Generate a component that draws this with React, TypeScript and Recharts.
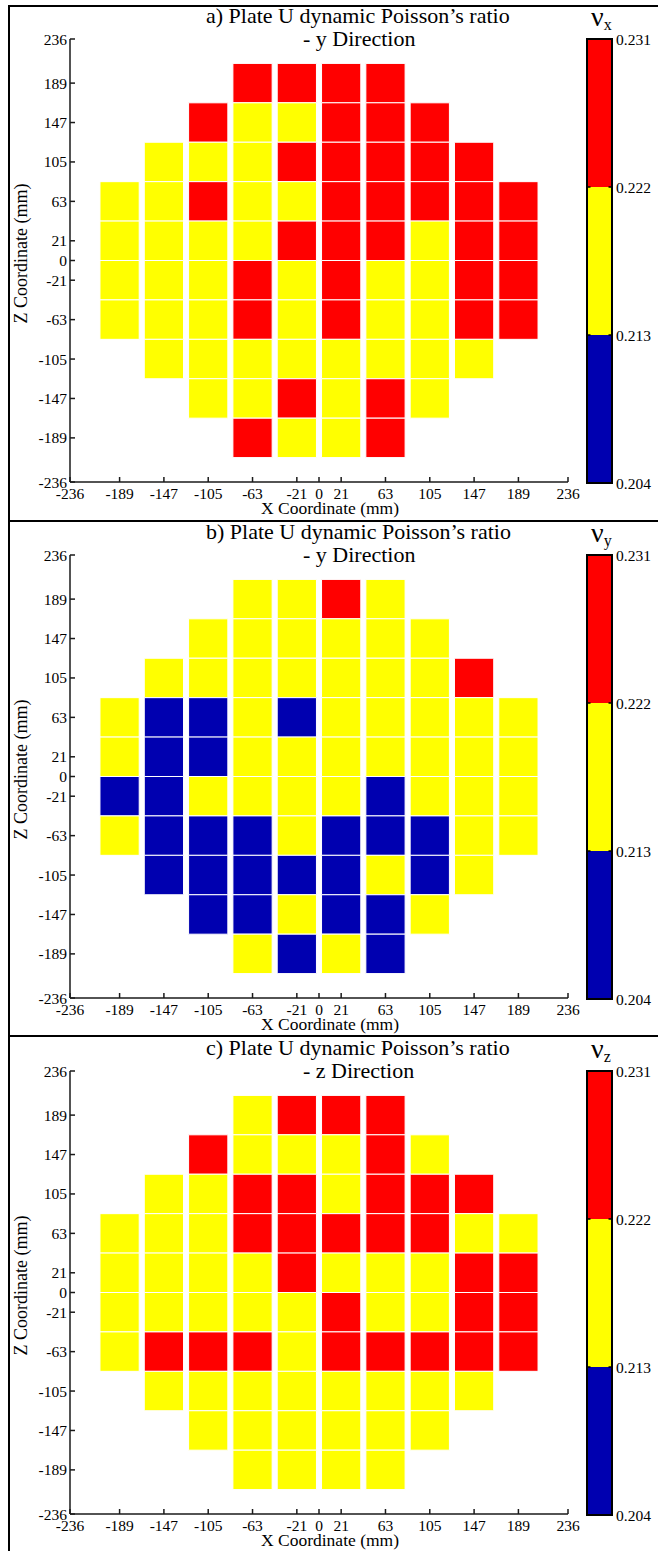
import React from "react"
import { ComposedChart, XAxis, YAxis, ReferenceArea, ReferenceLine } from "recharts"

// cell centres on the plate (mm)
const xCenters = [-189, -147, -105, -63, -21, 21, 63, 105, 147, 189]
const zCenters = [189, 147, 105, 63, 21, -21, -63, -105, -147, -189]
const coordTicks = [-236, -189, -147, -105, -63, -21, 0, 21, 63, 105, 147, 189, 236]

// colour bar
const levelTicks = [0.204, 0.213, 0.222, 0.231]
const levelColors = ["#0000b0", "#ffff00", "#ff0000"]

// rows follow zCenters (top to bottom), columns follow xCenters
const nuX = [
  [null, null, null, 0.227, 0.227, 0.227, 0.227, null, null, null],
  [null, null, 0.227, 0.218, 0.218, 0.227, 0.227, 0.227, null, null],
  [null, 0.218, 0.218, 0.218, 0.227, 0.227, 0.227, 0.227, 0.227, null],
  [0.218, 0.218, 0.227, 0.218, 0.218, 0.227, 0.227, 0.227, 0.227, 0.227],
  [0.218, 0.218, 0.218, 0.218, 0.227, 0.227, 0.227, 0.218, 0.227, 0.227],
  [0.218, 0.218, 0.218, 0.227, 0.218, 0.227, 0.218, 0.218, 0.227, 0.227],
  [0.218, 0.218, 0.218, 0.227, 0.218, 0.227, 0.218, 0.218, 0.227, 0.227],
  [null, 0.218, 0.218, 0.218, 0.218, 0.218, 0.218, 0.218, 0.218, null],
  [null, null, 0.218, 0.218, 0.227, 0.218, 0.227, 0.218, null, null],
  [null, null, null, 0.227, 0.218, 0.218, 0.227, null, null, null],
]

const nuY = [
  [null, null, null, 0.218, 0.218, 0.227, 0.218, null, null, null],
  [null, null, 0.218, 0.218, 0.218, 0.218, 0.218, 0.218, null, null],
  [null, 0.218, 0.218, 0.218, 0.218, 0.218, 0.218, 0.218, 0.227, null],
  [0.218, 0.209, 0.209, 0.218, 0.209, 0.218, 0.218, 0.218, 0.218, 0.218],
  [0.218, 0.209, 0.209, 0.218, 0.218, 0.218, 0.218, 0.218, 0.218, 0.218],
  [0.209, 0.209, 0.218, 0.218, 0.218, 0.218, 0.209, 0.218, 0.218, 0.218],
  [0.218, 0.209, 0.209, 0.209, 0.218, 0.209, 0.209, 0.209, 0.218, 0.218],
  [null, 0.209, 0.209, 0.209, 0.209, 0.209, 0.218, 0.209, 0.218, null],
  [null, null, 0.209, 0.209, 0.218, 0.209, 0.209, 0.218, null, null],
  [null, null, null, 0.218, 0.209, 0.218, 0.209, null, null, null],
]

const nuZ = [
  [null, null, null, 0.218, 0.227, 0.227, 0.227, null, null, null],
  [null, null, 0.227, 0.218, 0.218, 0.218, 0.227, 0.218, null, null],
  [null, 0.218, 0.218, 0.227, 0.227, 0.218, 0.227, 0.227, 0.227, null],
  [0.218, 0.218, 0.218, 0.227, 0.227, 0.227, 0.227, 0.227, 0.218, 0.218],
  [0.218, 0.218, 0.218, 0.218, 0.227, 0.218, 0.218, 0.218, 0.227, 0.227],
  [0.218, 0.218, 0.218, 0.218, 0.218, 0.227, 0.218, 0.218, 0.227, 0.227],
  [0.218, 0.227, 0.227, 0.227, 0.218, 0.227, 0.227, 0.227, 0.227, 0.227],
  [null, 0.218, 0.218, 0.218, 0.218, 0.218, 0.218, 0.218, 0.218, null],
  [null, null, 0.218, 0.218, 0.218, 0.218, 0.218, 0.218, null, null],
  [null, null, null, 0.218, 0.218, 0.218, 0.218, null, null, null],
]

const panels = [
  { title: "a) Plate U dynamic Poisson’s ratio", dir: "- y Direction", sub: "x", values: nuX },
  { title: "b) Plate U dynamic Poisson’s ratio", dir: "- y Direction", sub: "y", values: nuY },
  { title: "c) Plate U dynamic Poisson’s ratio", dir: "- z Direction", sub: "z", values: nuZ },
]

const SERIF = "'Liberation Serif', 'Times New Roman', serif"
const PANEL_H = 516
const HALF_W = 18.6
const HALF_H = 21

function colorFor(v: number) {
  if (v < levelTicks[1]) return levelColors[0]
  if (v < levelTicks[2]) return levelColors[1]
  return levelColors[2]
}

function toCells(values: (number | null)[][]) {
  const out: { x: number; z: number; v: number }[] = []
  values.forEach((row, r) =>
    row.forEach((v, c) => {
      if (v != null) out.push({ x: xCenters[c], z: zCenters[r], v })
    })
  )
  return out
}

const barData = levelTicks.map((t) => ({ x: 0.5, y: t }))
const tickStyle = { fill: "#000", fontSize: 15.5, fontFamily: SERIF }

function Panel({ index }: { index: number }) {
  const p = panels[index]
  const cells = toCells(p.values)
  const top = Math.round(index * PANEL_H)
  return (
    <div style={{ position: "absolute", left: 0, top, width: 658, height: 517 }}>
      <div style={{ position: "absolute", left: 206, top: 4, fontSize: 22, lineHeight: "24px", whiteSpace: "nowrap" }}>
        {p.title}
      </div>
      <div style={{ position: "absolute", left: 303, top: 27, fontSize: 22, lineHeight: "24px", whiteSpace: "nowrap" }}>
        {p.dir}
      </div>

      <div style={{ position: "absolute", left: 0, top: 0 }}>
        <ComposedChart width={580} height={522} data={cells} margin={{ top: 39, right: 12, bottom: 5, left: 10 }}>
          <XAxis
            type="number"
            dataKey="x"
            domain={[-236, 236]}
            ticks={coordTicks}
            interval={0}
            allowDataOverflow
            height={35}
            tickSize={-5}
            tickMargin={11}
            stroke="#1a1a1a"
            strokeWidth={1.5}
            tick={tickStyle}
            label={{ value: "X Coordinate (mm)", position: "insideBottom", offset: 3, dx: 11, fill: "#000", fontSize: 17.5 }}
          />
          <YAxis
            type="number"
            dataKey="z"
            domain={[-236, 236]}
            ticks={coordTicks}
            interval={0}
            allowDataOverflow
            width={60}
            tickSize={-5}
            tickMargin={8}
            stroke="#1a1a1a"
            strokeWidth={1.5}
            tick={tickStyle}
            label={{ value: "Z Coordinate (mm)", angle: -90, position: "center", dx: -19, dy: -7, fill: "#000", fontSize: 18 }}
          />
          {cells.map((c) => (
            <ReferenceArea
              key={`${c.x}_${c.z}`}
              x1={c.x - HALF_W}
              x2={c.x + HALF_W}
              y1={c.z - HALF_H}
              y2={c.z + HALF_H}
              fill={colorFor(c.v)}
              fillOpacity={1}
              stroke="#ffffff"
              strokeWidth={1}
            />
          ))}
        </ComposedChart>
      </div>

      <div style={{ position: "absolute", left: 591, top: 2, fontSize: 28, lineHeight: "30px", whiteSpace: "nowrap" }}>
        ν<span style={{ fontSize: 16, position: "relative", top: 4 }}>{p.sub}</span>
      </div>

      <div style={{ position: "absolute", left: 577, top: 0 }}>
        <ComposedChart width={80} height={517} data={barData} margin={{ top: 39, right: 0, bottom: 34, left: 10 }}>
          <XAxis type="number" dataKey="x" domain={[0, 1]} hide />
          <YAxis
            type="number"
            dataKey="y"
            orientation="right"
            domain={[levelTicks[0], levelTicks[3]]}
            ticks={levelTicks}
            interval={0}
            width={45}
            axisLine={false}
            tickLine={false}
            tickSize={0}
            tickMargin={4}
            tick={tickStyle}
            tickFormatter={(v: number) => v.toFixed(3)}
          />
          {levelColors.map((col, i) => (
            <ReferenceArea
              key={col}
              x1={0}
              x2={1}
              y1={levelTicks[i]}
              y2={levelTicks[i + 1]}
              fill={col}
              fillOpacity={1}
              stroke="none"
            />
          ))}
          {[levelTicks[1], levelTicks[2]].map((t) => (
            <ReferenceLine key={`l${t}`} segment={[{ x: 0, y: t }, { x: 0.14, y: t }]} stroke="#000" strokeWidth={1.5} />
          ))}
          {[levelTicks[1], levelTicks[2]].map((t) => (
            <ReferenceLine key={`r${t}`} segment={[{ x: 0.86, y: t }, { x: 1, y: t }]} stroke="#000" strokeWidth={1.5} />
          ))}
          <ReferenceArea x1={0} x2={1} y1={levelTicks[0]} y2={levelTicks[3]} fill="none" stroke="#000" strokeWidth={2} />
        </ComposedChart>
      </div>
    </div>
  )
}

export default function App() {
  return (
    <div
      style={{
        position: "absolute",
        left: 0,
        top: 0,
        width: 658,
        height: 1551,
        overflow: "hidden",
        background: "#fff",
        color: "#000",
        fontFamily: SERIF,
      }}
    >
      <style>{`.recharts-wrapper svg text { font-family: 'Liberation Serif', 'Times New Roman', serif !important; }`}</style>
      {panels.map((_, i) => (
        <Panel key={i} index={i} />
      ))}
      <div
        style={{
          position: "absolute",
          left: 8,
          top: 5,
          width: 660,
          height: 1560,
          border: "2px solid #000",
          boxSizing: "border-box",
          pointerEvents: "none",
        }}
      />
      <div style={{ position: "absolute", left: 8, top: 520, width: 660, height: 2, background: "#000" }} />
      <div style={{ position: "absolute", left: 8, top: 1035, width: 660, height: 2, background: "#000" }} />
    </div>
  )
}
